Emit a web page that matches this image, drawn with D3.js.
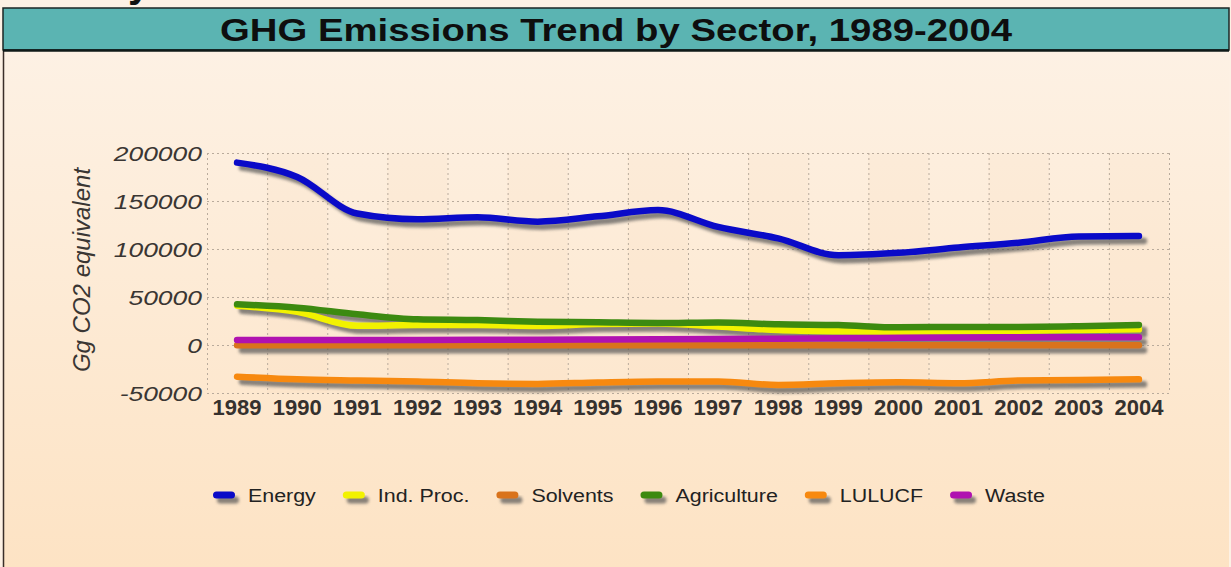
<!DOCTYPE html>
<html>
<head>
<meta charset="utf-8">
<script src="https://cdn.jsdelivr.net/npm/d3@7"></script>
<style>
  html, body { margin: 0; padding: 0; background: #fdf1e4; }
  svg { display: block; font-family: "Liberation Sans", Arial, sans-serif; }
</style>
</head>
<body>
<div id="container"></div>
<script>
const w = 1231, h = 567;

// data
const years = ['1989','1990','1991','1992','1993','1994','1995','1996','1997','1998','1999','2000','2001','2002','2003','2004'];
const energy      = [190000,175000,137000,131000,133000,128500,134000,140500,123000,111000,93500,96000,101500,106500,113000,113500];
const indProc     = [41000,34500,20000,20800,20800,19800,21900,22500,19200,15600,14300,13900,14300,14900,15600,16300];
const solvents    = [-300,-300,-300,-300,-300,-300,-300,-300,-300,-300,-300,-300,-300,-300,-300,-300];
const agriculture = [42400,38900,32000,26800,26000,24300,23600,22900,23500,21500,20800,18400,18800,18800,19500,20800];
const lulucf      = [-33000,-35800,-37000,-38000,-39900,-40500,-39000,-38000,-38000,-41600,-39900,-38900,-39900,-37000,-36500,-35800];
const waste       = [5200,5200,5200,5300,5400,5500,5800,6000,6300,6600,7000,7500,7800,8000,8000,8000];
const seriesNames = ['Energy','Ind. Proc.','Solvents','Agriculture','LULUCF','Waste'];
const seriesColors = ['#0a0ac8','#f2f200','#d9731c','#3c8a10','#f7890f','#b012b0'];
const yTicks = [-50000,0,50000,100000,150000,200000];

const series = [energy, indProc, solvents, agriculture, lulucf, waste].map((vals, i) => ({
    name: seriesNames[i], color: seriesColors[i], values: vals
}));

const svg = d3.select('#container').append('svg').attr('width', w).attr('height', h);
const defs = svg.append('defs');

const bg = defs.append('linearGradient').attr('id', 'bg').attr('x1', 0).attr('y1', 0).attr('x2', 0).attr('y2', 1);
bg.append('stop').attr('offset', '0%').attr('stop-color', '#fdf1e4');
bg.append('stop').attr('offset', '100%').attr('stop-color', '#fde3c4');

// blur for the shadow layer, in user space so flat lines keep it
defs.append('filter').attr('id', 'blur').attr('filterUnits', 'userSpaceOnUse')
    .attr('x', 0).attr('y', 0).attr('width', w).attr('height', h)
    .append('feGaussianBlur').attr('stdDeviation', 1.7);

// background + frame
svg.append('rect').attr('x', 0).attr('y', 0).attr('width', w).attr('height', h).attr('fill', '#fdf1e4');
svg.append('rect').attr('x', 3).attr('y', 51).attr('width', w - 5).attr('height', h - 51).attr('fill', 'url(#bg)');
svg.append('line').attr('x1', 3.5).attr('x2', 3.5).attr('y1', 51).attr('y2', h).attr('stroke', '#3a2e28').attr('stroke-width', 1.5);

// leftover glyph at top from text above
svg.append('text').attr('x', 128).attr('y', -3).attr('font-size', 40).attr('font-weight', 'bold').attr('fill', '#111').text('y');

// title bar
svg.append('rect').attr('x', 3).attr('y', 8).attr('width', w - 5).attr('height', 42)
    .attr('fill', '#5bb4b2').attr('stroke', '#1b2624').attr('stroke-width', 1.5);
svg.append('line').attr('x1', 3).attr('x2', w - 2).attr('y1', 50.5).attr('y2', 50.5).attr('stroke', '#0f1a18').attr('stroke-width', 2.5);
svg.append('text').attr('x', 220).attr('y', 41)
    .attr('font-size', 31).attr('font-weight', 'bold').attr('fill', '#0e0e0e')
    .attr('textLength', 792).attr('lengthAdjust', 'spacingAndGlyphs')
    .text('GHG Emissions Trend by Sector, 1989-2004');

// scales
const x = d3.scaleBand().domain(years).range([207, 1169]).padding(0);
const y = d3.scaleLinear().domain([-50000, 200000]).range([393, 153]);
const cx = d => x(d) + x.bandwidth() / 2;

// alternating column shading
svg.append('g').selectAll('rect').data(years.filter((d, i) => i % 2 === 1)).join('rect')
    .attr('x', d => x(d)).attr('y', y(200000)).attr('width', x.bandwidth()).attr('height', y(-50000) - y(200000))
    .attr('fill', '#f6d6b2').attr('opacity', 0.12);

// grid
const grid = svg.append('g').attr('stroke', '#b9ab9c').attr('stroke-width', 1).attr('stroke-dasharray', '2,3');
grid.selectAll('.hg').data(yTicks).join('line').attr('class', 'hg')
    .attr('x1', 207).attr('x2', 1169).attr('y1', d => y(d) + 0.5).attr('y2', d => y(d) + 0.5);
grid.selectAll('.vg').data(years.concat(['end'])).join('line').attr('class', 'vg')
    .attr('x1', (d, i) => 207 + i * x.bandwidth() + 0.5).attr('x2', (d, i) => 207 + i * x.bandwidth() + 0.5)
    .attr('y1', y(200000)).attr('y2', y(-50000));

// y axis
const yAxis = svg.append('g').attr('transform', 'translate(202,0)')
    .call(d3.axisLeft(y).tickValues(yTicks).tickSize(0).tickPadding(0).tickFormat(d => String(d)));
yAxis.select('.domain').remove();
yAxis.selectAll('text').attr('x', 0).attr('dy', '0.36em').attr('transform', 'scale(1.26,1)')
    .attr('font-size', 21).attr('font-style', 'italic').attr('fill', '#3a3633')
    .attr('font-family', '"Liberation Sans", Arial, sans-serif');

// x axis
const xAxis = svg.append('g').attr('transform', 'translate(0,393)')
    .call(d3.axisBottom(x).tickSize(0).tickPadding(0));
xAxis.select('.domain').remove();
xAxis.selectAll('text').attr('y', 22).attr('dy', 0)
    .attr('font-size', 22).attr('font-weight', 'bold').attr('fill', '#35312e')
    .attr('font-family', '"Liberation Sans", Arial, sans-serif');

// y title
svg.append('text').attr('transform', 'translate(90,270) rotate(-90)')
    .attr('text-anchor', 'middle').attr('font-size', 24).attr('font-style', 'italic').attr('fill', '#3a3633')
    .text('Gg CO2 equivalent');

// lines: all shadows first, then the coloured lines on top
const line = d3.line().x((d, i) => cx(years[i])).y(d => y(d)).curve(d3.curveMonotoneX);
svg.append('g').attr('transform', 'translate(5,5)').attr('filter', 'url(#blur)').attr('opacity', 0.7)
    .selectAll('path').data(series).join('path')
    .attr('d', d => line(d.values))
    .attr('fill', 'none').attr('stroke', '#555').attr('stroke-width', 6.5)
    .attr('stroke-linecap', 'round').attr('stroke-linejoin', 'round');
svg.append('g').selectAll('path').data(series).join('path')
    .attr('d', d => line(d.values))
    .attr('fill', 'none').attr('stroke', d => d.color).attr('stroke-width', 6.5)
    .attr('stroke-linecap', 'round').attr('stroke-linejoin', 'round');

// legend
const legend = svg.append('g').attr('transform', 'translate(213,495)');
let cursor = 0;
series.forEach(s => {
    const g = legend.append('g').attr('transform', `translate(${cursor},0)`);
    g.append('rect').attr('x', 4).attr('y', 1.5).attr('width', 22).attr('height', 7).attr('rx', 3.5)
        .attr('fill', '#555').attr('opacity', 0.7).attr('filter', 'url(#blur)');
    g.append('rect').attr('x', 0).attr('y', -3.5).attr('width', 22).attr('height', 7).attr('rx', 3.5)
        .attr('fill', s.color);
    const t = g.append('text').attr('x', 0).attr('y', 6.5)
        .attr('transform', 'translate(35,0) scale(1.19,1)')
        .attr('font-size', 18).attr('fill', '#222').text(s.name);
    const tw = t.node().getComputedTextLength() * 1.19;
    cursor += 35 + tw + 27;
});
</script>
</body>
</html>
